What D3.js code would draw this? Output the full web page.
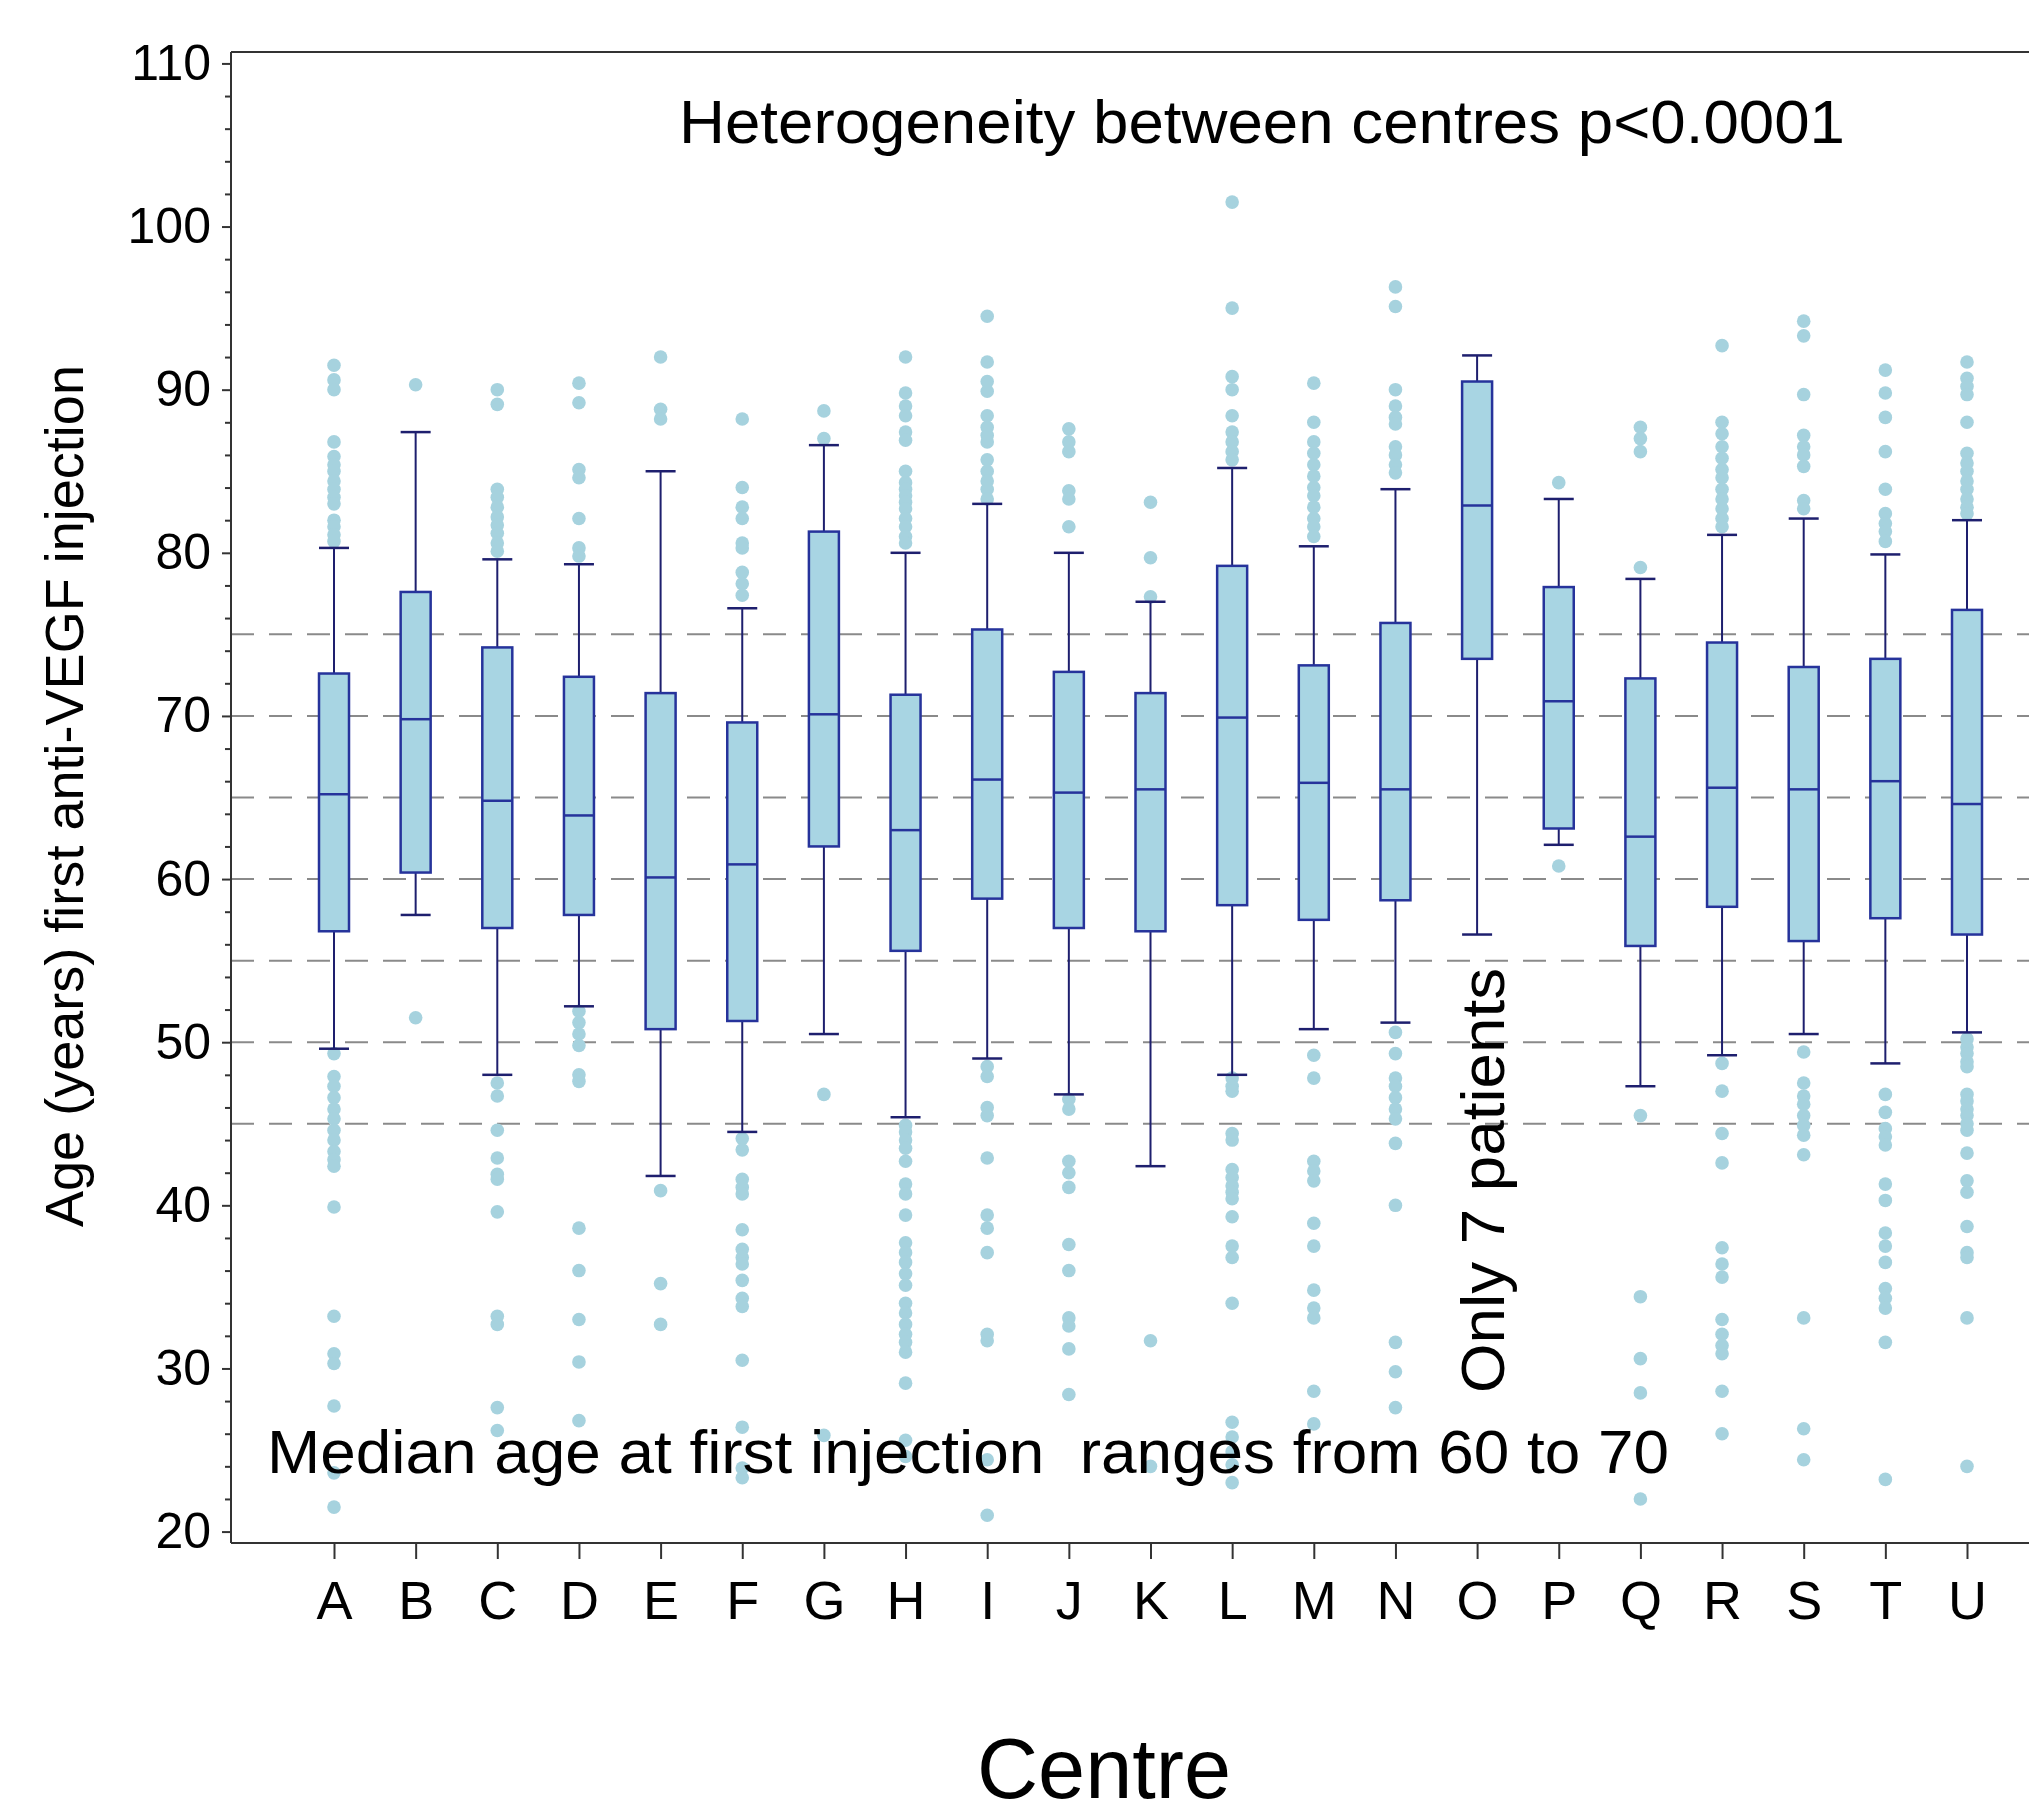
<!DOCTYPE html>
<html>
<head>
<meta charset="utf-8">
<script src="https://cdn.jsdelivr.net/npm/d3@7"></script>
<style>
  body { margin: 0; background: #fff; }
  svg text { font-family: "Liberation Sans", Arial, sans-serif; fill: #000; }
</style>
</head>
<body>
<div class="container"></div>
<script>
const size = { width: 2029, height: 1816 };

// centres and box summaries
const centres = ["A","B","C","D","E","F","G","H","I","J","K","L","M","N","O","P","Q","R","S","T","U"];
const whiskerLow  = [49.6, 57.8, 48.0, 52.2, 41.8, 44.5, 50.5, 45.4, 49.0, 46.8, 42.4, 48.0, 50.8, 51.2, 56.6, 62.1, 47.3, 49.2, 50.5, 48.7, 50.6];
const q1          = [56.8, 60.4, 57.0, 57.8, 50.8, 51.3, 62.0, 55.6, 58.8, 57.0, 56.8, 58.4, 57.5, 58.7, 73.5, 63.1, 55.9, 58.3, 56.2, 57.6, 56.6];
const medians     = [65.2, 69.8, 64.8, 63.9, 60.1, 60.9, 70.1, 63.0, 66.1, 65.3, 65.5, 69.9, 65.9, 65.5, 82.9, 70.9, 62.6, 65.6, 65.5, 66.0, 64.6];
const q3          = [72.6, 77.6, 74.2, 72.4, 71.4, 69.6, 81.3, 71.3, 75.3, 72.7, 71.4, 79.2, 73.1, 75.7, 90.5, 77.9, 72.3, 74.5, 73.0, 73.5, 76.5];
const whiskerHigh = [80.3, 87.4, 79.6, 79.3, 85.0, 76.6, 86.6, 80.0, 83.0, 80.0, 77.0, 85.2, 80.4, 83.9, 92.1, 83.3, 78.4, 81.1, 82.1, 79.9, 82.0];

const outliers = [
  [91.5, 90.6, 90.0, 86.8, 85.9, 85.4, 85.0, 84.4, 83.9, 83.4, 83.0, 82.0, 81.6, 81.1, 80.7, 49.3, 47.9, 47.3, 46.6, 45.9, 45.3, 44.6, 44.0, 43.3, 42.8, 42.4, 39.9, 33.2, 30.9, 30.3, 27.7, 23.6, 21.5],
  [90.3, 51.5],
  [90.0, 89.1, 83.9, 83.4, 82.8, 82.2, 81.7, 81.2, 80.6, 80.1, 47.5, 46.7, 44.6, 42.9, 41.9, 41.6, 39.6, 33.2, 32.7, 27.6, 26.2],
  [90.4, 89.2, 85.1, 84.6, 82.1, 80.3, 79.8, 51.9, 51.2, 50.5, 49.8, 48.0, 47.6, 38.6, 36.0, 33.0, 30.4, 26.8],
  [92.0, 88.8, 88.2, 40.9, 35.2, 32.7],
  [88.2, 84.0, 82.8, 82.1, 80.6, 80.3, 78.8, 78.1, 77.4, 44.1, 43.4, 41.6, 41.1, 40.7, 38.5, 37.3, 36.8, 36.4, 35.4, 34.3, 33.8, 30.5, 26.4, 23.9, 23.3],
  [88.7, 87.0, 46.8, 25.9],
  [92.0, 89.8, 89.0, 88.4, 87.4, 86.9, 85.0, 84.3, 83.9, 83.5, 83.1, 82.7, 82.1, 81.6, 81.0, 80.6, 44.9, 44.5, 44.0, 43.5, 42.7, 41.3, 40.7, 39.4, 37.7, 37.1, 36.5, 35.8, 35.1, 34.0, 33.4, 32.7, 32.1, 31.6, 31.0, 29.1, 25.6, 24.6],
  [94.5, 91.7, 90.5, 89.9, 88.4, 87.7, 87.2, 86.8, 85.7, 85.0, 84.4, 83.9, 83.3, 48.5, 47.9, 46.0, 45.5, 42.9, 39.4, 38.6, 37.1, 32.1, 31.7, 24.4, 21.0],
  [87.6, 86.8, 86.2, 83.8, 83.3, 81.6, 46.5, 45.9, 42.7, 42.0, 41.1, 37.6, 36.0, 33.1, 32.6, 31.2, 28.4],
  [83.1, 79.7, 77.3, 31.7, 24.0],
  [101.5, 95.0, 90.8, 90.0, 88.4, 87.4, 86.8, 86.2, 85.7, 47.8, 47.3, 47.0, 44.4, 44.0, 42.2, 41.7, 41.2, 40.8, 40.4, 39.3, 37.5, 36.8, 34.0, 26.7, 25.8, 24.9, 24.1, 23.0],
  [90.4, 88.0, 86.8, 86.1, 85.4, 84.7, 84.0, 83.5, 82.8, 82.1, 81.6, 81.0, 49.2, 47.8, 42.7, 42.1, 41.5, 38.9, 37.5, 34.8, 33.7, 33.1, 28.6, 26.6],
  [96.3, 95.1, 90.0, 89.0, 88.3, 87.9, 86.5, 86.0, 85.4, 84.9, 50.6, 49.3, 47.8, 47.3, 46.6, 45.9, 45.3, 43.8, 40.0, 31.6, 29.8, 27.6],
  [],
  [84.3, 60.8],
  [87.7, 87.0, 86.2, 79.1, 45.5, 34.4, 30.6, 28.5, 22.0],
  [92.7, 88.0, 87.3, 86.5, 85.8, 85.1, 84.6, 83.9, 83.3, 82.7, 82.1, 81.6, 48.7, 47.0, 44.4, 42.6, 37.4, 36.4, 35.6, 33.0, 32.1, 31.4, 30.9, 28.6, 26.0],
  [94.2, 93.3, 89.7, 87.2, 86.5, 86.0, 85.3, 83.2, 82.7, 49.4, 47.5, 46.7, 46.2, 45.5, 44.9, 44.3, 43.1, 33.1, 26.3, 24.4],
  [91.2, 89.8, 88.3, 86.2, 83.9, 82.4, 81.8, 81.3, 80.7, 46.8, 45.7, 44.7, 44.2, 43.7, 41.3, 40.3, 38.3, 37.5, 36.5, 34.9, 34.3, 33.7, 31.6, 23.2],
  [91.7, 90.7, 90.2, 89.7, 88.0, 86.1, 85.5, 85.0, 84.4, 83.9, 83.3, 82.8, 82.4, 50.2, 49.7, 49.3, 48.8, 48.5, 46.8, 46.4, 45.9, 45.5, 45.0, 44.6, 43.2, 41.5, 40.8, 38.7, 37.1, 36.8, 33.1, 24.0]
];

const yTicks = d3.range(20, 111, 10);
const yMinor = d3.range(20, 111, 2).filter(v => v % 10 !== 0);
const refLines = [45, 50, 55, 60, 65, 70, 75];

const plot = { left: 231, top: 52, bottom: 1543, right: 2029 };
const boxWidth = 30;

const svg = d3.select(".container")
  .append("svg")
  .attr("width", size.width)
  .attr("height", size.height);

const y = d3.scaleLinear().domain([19.3, 110.7]).range([plot.bottom, plot.top]);
const x = d3.scalePoint().domain(centres).range([334, 1967]);

// dashed reference lines
svg.append("g")
  .selectAll("line")
  .data(refLines)
  .enter()
    .append("line")
    .attr("x1", plot.left)
    .attr("x2", plot.right)
    .attr("y1", d => y(d))
    .attr("y2", d => y(d))
    .attr("stroke", "#8a8a8a")
    .attr("stroke-width", 2)
    .attr("stroke-dasharray", "23,15");

const boxes = centres.map((c, i) => ({
  c: c, lo: whiskerLow[i], q1: q1[i], med: medians[i], q3: q3[i], hi: whiskerHigh[i], out: outliers[i]
}));

const g = svg.append("g");

// outliers
g.selectAll("g.out")
  .data(boxes)
  .enter()
    .append("g")
    .attr("class", "out")
    .selectAll("circle")
    .data(d => d.out.map(v => ({ c: d.c, v: v })))
    .enter()
      .append("circle")
      .attr("cx", d => x(d.c))
      .attr("cy", d => y(d.v))
      .attr("r", 6.8)
      .attr("fill", "#a6d2de");

const bx = g.selectAll("g.box")
  .data(boxes)
  .enter()
    .append("g")
    .attr("class", "box");

const whiskerColor = "#1e1f6e";
const boxStroke = "#26339b";

// whisker stems
bx.append("line")
  .attr("x1", d => x(d.c)).attr("x2", d => x(d.c))
  .attr("y1", d => y(d.hi)).attr("y2", d => y(d.lo))
  .attr("stroke", whiskerColor).attr("stroke-width", 2);

// caps
bx.selectAll("line.cap")
  .data(d => [d.lo, d.hi].map(v => ({ c: d.c, v: v })))
  .enter()
    .append("line")
    .attr("class", "cap")
    .attr("x1", d => x(d.c) - boxWidth / 2).attr("x2", d => x(d.c) + boxWidth / 2)
    .attr("y1", d => y(d.v)).attr("y2", d => y(d.v))
    .attr("stroke", whiskerColor).attr("stroke-width", 2.5);

bx.append("rect")
  .attr("x", d => x(d.c) - boxWidth / 2)
  .attr("width", boxWidth)
  .attr("y", d => y(d.q3))
  .attr("height", d => y(d.q1) - y(d.q3))
  .attr("fill", "#a8d5e3")
  .attr("stroke", boxStroke)
  .attr("stroke-width", 2.5);

bx.append("line")
  .attr("x1", d => x(d.c) - boxWidth / 2).attr("x2", d => x(d.c) + boxWidth / 2)
  .attr("y1", d => y(d.med)).attr("y2", d => y(d.med))
  .attr("stroke", boxStroke).attr("stroke-width", 2.5);

// frame
const frame = svg.append("g").attr("stroke", "#333").attr("stroke-width", 2);
frame.append("line").attr("x1", plot.left).attr("x2", plot.right).attr("y1", plot.top).attr("y2", plot.top);
frame.append("line").attr("x1", plot.left).attr("x2", plot.right).attr("y1", plot.bottom).attr("y2", plot.bottom);
frame.append("line").attr("x1", plot.left).attr("x2", plot.left).attr("y1", plot.top).attr("y2", plot.bottom);

// y axis
const yAxis = svg.append("g")
  .attr("transform", `translate(${plot.left},0)`)
  .call(d3.axisLeft(y).tickValues(yTicks).tickSize(9).tickPadding(11).tickSizeOuter(0));
yAxis.select(".domain").remove();
yAxis.selectAll("line").attr("stroke", "#333").attr("stroke-width", 2);
yAxis.selectAll("text").style("font-size", "50px").attr("fill", "#111");

const yAxisMinor = svg.append("g")
  .attr("transform", `translate(${plot.left},0)`)
  .call(d3.axisLeft(y).tickValues(yMinor).tickSize(6).tickFormat(""));
yAxisMinor.select(".domain").remove();
yAxisMinor.selectAll("line").attr("stroke", "#333").attr("stroke-width", 2);

// x axis
const xAxis = svg.append("g")
  .attr("transform", `translate(0,${plot.bottom})`)
  .call(d3.axisBottom(x).tickSize(16).tickPadding(22));
xAxis.select(".domain").remove();
xAxis.selectAll("line").attr("stroke", "#333").attr("stroke-width", 2);
xAxis.selectAll("text").style("font-size", "54px").attr("fill", "#111");

// axis titles
svg.append("text")
  .attr("transform", "translate(83,796) rotate(-90)")
  .attr("text-anchor", "middle")
  .attr("textLength", 862)
  .attr("lengthAdjust", "spacingAndGlyphs")
  .style("font-size", "54px")
  .text("Age (years) first anti-VEGF injection");

svg.append("text")
  .attr("x", 977)
  .attr("y", 1798)
  .attr("textLength", 254)
  .attr("lengthAdjust", "spacingAndGlyphs")
  .style("font-size", "86px")
  .text("Centre");

// annotations
svg.append("text")
  .attr("x", 679)
  .attr("y", 143)
  .attr("textLength", 1166)
  .attr("lengthAdjust", "spacingAndGlyphs")
  .style("font-size", "62px")
  .text("Heterogeneity between centres p<0.0001");

svg.append("text")
  .attr("x", 267)
  .attr("y", 1473)
  .attr("textLength", 1402)
  .attr("lengthAdjust", "spacingAndGlyphs")
  .style("font-size", "62px")
  .style("white-space", "pre")
  .text("Median age at first injection  ranges from 60 to 70");

svg.append("text")
  .attr("transform", "translate(1504,1393) rotate(-90)")
  .attr("textLength", 425)
  .attr("lengthAdjust", "spacingAndGlyphs")
  .style("font-size", "62px")
  .text("Only 7 patients");
</script>
</body>
</html>
